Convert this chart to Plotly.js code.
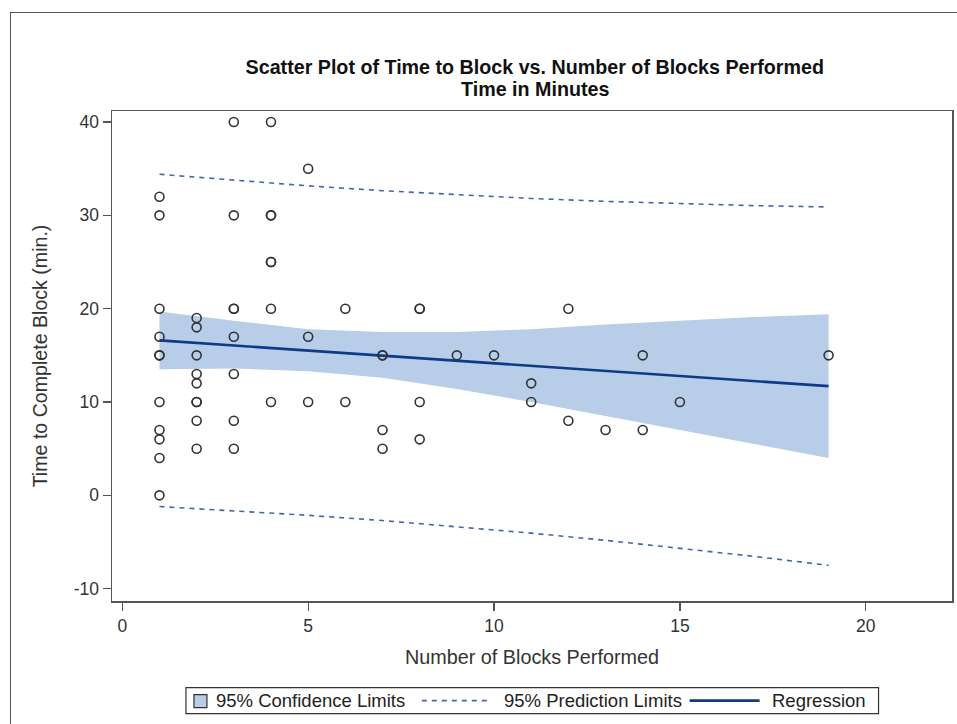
<!DOCTYPE html>
<html>
<head>
<meta charset="utf-8">
<script src="https://cdn.plot.ly/plotly-3.0.1.min.js"></script>
<style>
  html, body { margin: 0; padding: 0; background: #ffffff; }
  #wrap { position: relative; width: 957px; height: 724px; overflow: hidden; }
  #chart { width: 957px; height: 724px; }
  #frame { position: absolute; left: 10px; top: 12px; width: 1000px; height: 800px;
           border-left: 1.5px solid #555; border-top: 1.5px solid #555; pointer-events: none; }
</style>
</head>
<body>
<div id="wrap">
  <div id="chart"></div>
  <div id="frame"></div>
</div>
<script>
// Observations: number of blocks performed (x) and time to complete block in minutes (y)
const blocksPerformed = [
  1,1,1,1,1,1,1,1,1,1,1,
  2,2,2,2,2,2,2,2,2,
  3,3,3,3,3,3,3,3,
  4,4,4,4,4,4,4,
  5,5,5,
  6,6,
  7,7,7,7,
  8,8,8,8,
  9,
  10,
  11,11,
  12,12,
  13,
  14,14,
  15,
  19
];
const timeToBlock = [
  32,30,20,17,15,15,10,7,6,4,0,
  19,18,15,13,12,10,10,8,5,
  40,30,20,20,17,13,8,5,
  40,30,30,25,25,20,10,
  35,17,10,
  20,10,
  15,15,7,5,
  20,20,10,6,
  15,
  15,
  12,10,
  20,8,
  7,
  15,7,
  10,
  15
];

// Fit, confidence and prediction limits
const fitX      = [1, 3, 5, 7, 9, 11, 13, 15, 17, 19];
const fitY      = [16.6, 16.06, 15.51, 14.97, 14.42, 13.88, 13.34, 12.79, 12.25, 11.7];
const ciUpper   = [19.7, 18.7, 17.8, 17.5, 17.5, 17.8, 18.3, 18.7, 19.1, 19.4];
const ciLower   = [13.5, 13.6, 13.3, 12.6, 11.4, 10.0, 8.5, 7.0, 5.5, 4.0];
const predUpper = [34.4, 33.75, 33.16, 32.64, 32.19, 31.81, 31.5, 31.23, 31.04, 30.9];
const predLower = [-1.2, -1.63, -2.14, -2.7, -3.35, -4.05, -4.82, -5.65, -6.54, -7.5];

const xTickVals = [0, 5, 10, 15, 20];
const xTickText = ['0', '5', '10', '15', '20'];
const yTickVals = [-10, 0, 10, 20, 30, 40];
const yTickText = ['-10', '0', '10', '20', '30', '40'];

const titleLine1 = 'Scatter Plot of Time to Block vs. Number of Blocks Performed';
const titleLine2 = 'Time in Minutes';
const legendLabels = ['95% Confidence Limits', '95% Prediction Limits', 'Regression'];

const FONT = '"Liberation Sans", Arial, Helvetica, sans-serif';
const bandColor = '#b8cde7';
const fitColor = '#0f3a8a';
const predColor = '#4566aa';

// plot-area geometry in pixels (for placing the legend box below the plot)
const PL = 112, PR = 952.5, PT = 111, PB = 601.3;
const px = v => (v - PL) / (PR - PL);
const py = v => (PB - v) / (PB - PT);

const traces = [
  {
    x: fitX.concat(fitX.slice().reverse()),
    y: ciUpper.concat(ciLower.slice().reverse()),
    type: 'scatter', mode: 'lines', fill: 'toself',
    fillcolor: bandColor, line: {width: 0, color: bandColor},
    name: legendLabels[0], hoverinfo: 'skip'
  },
  {
    x: fitX, y: predUpper, type: 'scatter', mode: 'lines',
    name: legendLabels[1],
    line: {color: predColor, width: 1.6, dash: '5px,5px'}
  },
  {
    x: fitX, y: predLower, type: 'scatter', mode: 'lines',
    name: legendLabels[1],
    line: {color: predColor, width: 1.6, dash: '5px,5px'}
  },
  {
    x: fitX, y: fitY, type: 'scatter', mode: 'lines',
    name: legendLabels[2],
    line: {color: fitColor, width: 2.6}
  },
  {
    x: blocksPerformed, y: timeToBlock, type: 'scatter', mode: 'markers',
    name: 'Observations',
    marker: {symbol: 'circle-open', size: 9, color: '#333333', line: {width: 1.6, color: '#333333'}}
  }
];

const axisCommon = {
  showline: true, mirror: true, linecolor: '#555555', linewidth: 1.5,
  ticks: 'outside', ticklen: 8, tickwidth: 1.3, tickcolor: '#555555',
  showgrid: false, zeroline: false,
  tickfont: {family: FONT, size: 17.5, color: '#333333'},
  automargin: false
};

const legendY = 701;
const shapes = [
  {type: 'rect', xref: 'paper', yref: 'paper', x0: px(186), x1: px(879), y0: py(714), y1: py(688),
   line: {color: '#333333', width: 1.2}, fillcolor: '#ffffff'},
  {type: 'rect', xref: 'paper', yref: 'paper', x0: px(194), x1: px(207), y0: py(708), y1: py(695),
   line: {color: '#333333', width: 1.2}, fillcolor: bandColor},
  {type: 'line', xref: 'paper', yref: 'paper', x0: px(422), x1: px(490), y0: py(legendY), y1: py(legendY),
   line: {color: predColor, width: 1.6, dash: '5px,5px'}},
  {type: 'line', xref: 'paper', yref: 'paper', x0: px(690), x1: px(760), y0: py(legendY), y1: py(legendY),
   line: {color: fitColor, width: 2.6}}
];
const legendTextX = [214, 502, 770];
const annotations = legendLabels.map((t, i) => ({
  text: t, xref: 'paper', yref: 'paper', x: px(legendTextX[i]), y: py(legendY),
  xanchor: 'left', yanchor: 'middle', showarrow: false,
  font: {family: FONT, size: 18.5, color: '#222222'}
}));
annotations.push({
  text: '<b>' + titleLine2 + '</b>', xref: 'paper', yref: 'paper', x: px(535.5), y: py(89),
  xanchor: 'center', yanchor: 'middle', showarrow: false,
  font: {family: FONT, size: 19.7, color: '#111111'}
});

const layout = {
  width: 957, height: 724,
  paper_bgcolor: '#ffffff', plot_bgcolor: '#ffffff',
  margin: {l: PL, r: 957 - PR, t: PT, b: 724 - PB},
  font: {family: FONT, color: '#333333'},
  showlegend: false,
  title: {
    text: '<b>' + titleLine1 + '</b>',
    font: {family: FONT, size: 19.7, color: '#111111'},
    x: px(535), xref: 'paper', xanchor: 'center',
    y: 1 - 67 / 724, yref: 'container', yanchor: 'middle'
  },
  xaxis: Object.assign({}, axisCommon, {
    range: [-0.277, 22.32],
    tickvals: xTickVals, ticktext: xTickText,
    title: {text: 'Number of Blocks Performed', font: {family: FONT, size: 19.8, color: '#333333'}, standoff: 15}
  }),
  yaxis: Object.assign({}, axisCommon, {
    range: [-11.32, 41.18],
    tickvals: yTickVals, ticktext: yTickText,
    title: {text: 'Time to Complete Block (min.)', font: {family: FONT, size: 19.6, color: '#333333'}, standoff: 21}
  }),
  shapes: shapes,
  annotations: annotations
};

Plotly.newPlot('chart', traces, layout, {displayModeBar: false, staticPlot: true});
</script>
</body>
</html>
